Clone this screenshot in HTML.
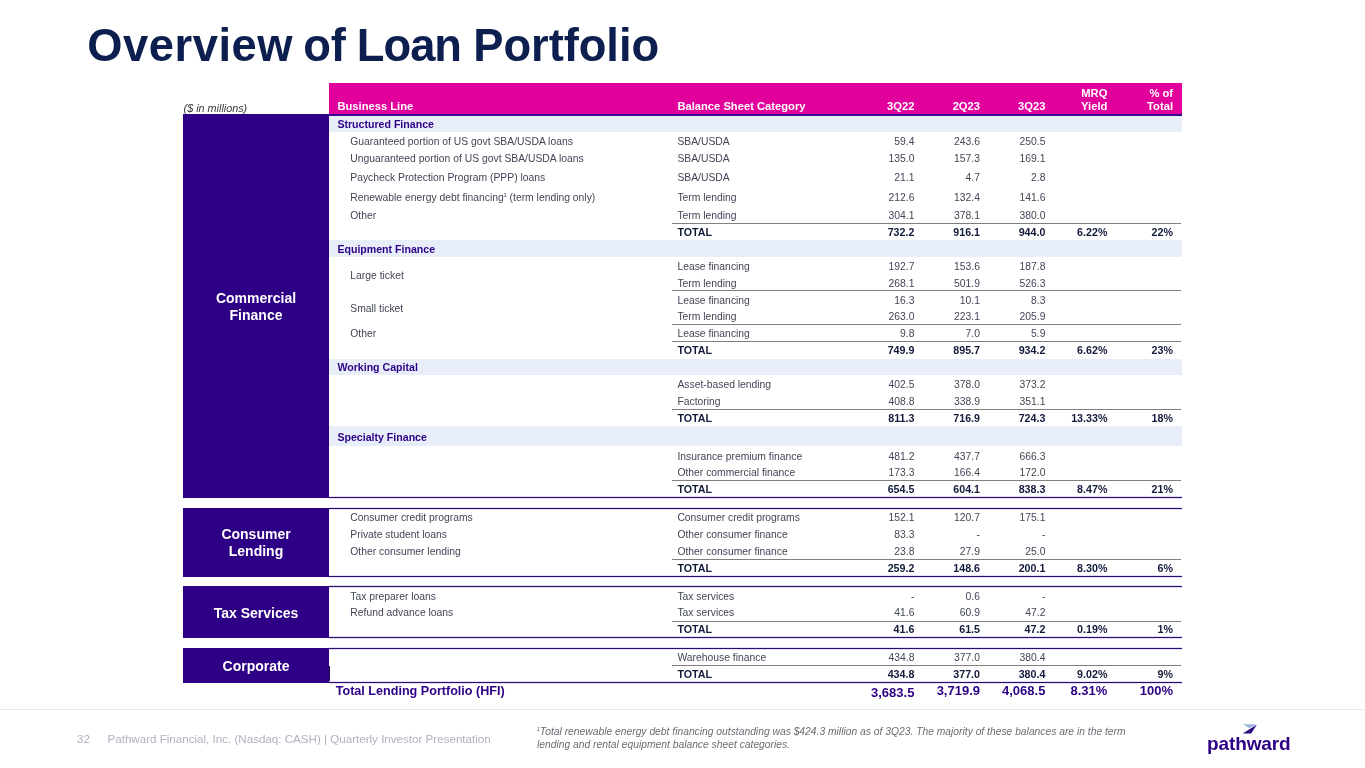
<!DOCTYPE html>
<html><head><meta charset="utf-8"><title>Overview of Loan Portfolio</title>
<style>
html,body{margin:0;padding:0;background:#fff;}
body{width:1365px;height:768px;position:relative;overflow:hidden;font-family:"Liberation Sans",Arial,sans-serif;}
.r{position:absolute;}
.t{position:absolute;white-space:nowrap;}
#w{position:absolute;left:0;top:0;width:1365px;height:768px;will-change:transform;}
sup{font-size:0.55em;vertical-align:0;position:relative;top:-0.68em;line-height:0;margin-left:-0.3px;}
</style></head><body><div id="w">
<div class="r" style="left:329px;top:83px;width:852.5px;height:31px;background:#e2009c;"></div>
<div class="r" style="left:329px;top:114px;width:852.5px;height:2px;background:#380c90;"></div>
<div class="r" style="left:183px;top:114px;width:146px;height:384px;background:#2e0085;"></div>
<div class="r" style="left:183px;top:508px;width:146px;height:69px;background:#2e0085;"></div>
<div class="r" style="left:183px;top:586px;width:146px;height:52px;background:#2e0085;"></div>
<div class="r" style="left:183px;top:648px;width:146px;height:35px;background:#2e0085;"></div>
<div class="r" style="left:329px;top:666px;width:1px;height:17px;background:#1c0a48;"></div>
<div class="r" style="left:329px;top:116px;width:852.5px;height:16px;background:#e7eefa;"></div>
<div class="r" style="left:329px;top:240px;width:852.5px;height:17px;background:#e7eefa;"></div>
<div class="r" style="left:329px;top:359px;width:852.5px;height:16px;background:#e7eefa;"></div>
<div class="r" style="left:329px;top:426px;width:852.5px;height:20px;background:#e7eefa;"></div>
<div class="r" style="left:672.2px;top:223px;width:509.29999999999995px;height:1.1px;background:#808080;"></div>
<div class="r" style="left:672.2px;top:290px;width:509.29999999999995px;height:1.1px;background:#808080;"></div>
<div class="r" style="left:672.2px;top:324px;width:509.29999999999995px;height:1.1px;background:#808080;"></div>
<div class="r" style="left:672.2px;top:340.5px;width:509.29999999999995px;height:1.1px;background:#808080;"></div>
<div class="r" style="left:672.2px;top:408.5px;width:509.29999999999995px;height:1.1px;background:#808080;"></div>
<div class="r" style="left:672.2px;top:480px;width:509.29999999999995px;height:1.1px;background:#808080;"></div>
<div class="r" style="left:672.2px;top:559px;width:509.29999999999995px;height:1.1px;background:#808080;"></div>
<div class="r" style="left:672.2px;top:620.5px;width:509.29999999999995px;height:1.1px;background:#808080;"></div>
<div class="r" style="left:672.2px;top:665px;width:509.29999999999995px;height:1.1px;background:#808080;"></div>
<div class="r" style="left:329px;top:497px;width:852.5px;height:1px;background:#2a0c6c;box-shadow:0 -1px 0 #e4ddf5,0 1px 0 #e4ddf5;"></div>
<div class="r" style="left:329px;top:508px;width:852.5px;height:1px;background:#2a0c6c;box-shadow:0 -1px 0 #e4ddf5,0 1px 0 #e4ddf5;"></div>
<div class="r" style="left:329px;top:576px;width:852.5px;height:1px;background:#2a0c6c;box-shadow:0 -1px 0 #e4ddf5,0 1px 0 #e4ddf5;"></div>
<div class="r" style="left:329px;top:586px;width:852.5px;height:1px;background:#2a0c6c;box-shadow:0 -1px 0 #e4ddf5,0 1px 0 #e4ddf5;"></div>
<div class="r" style="left:329px;top:637px;width:852.5px;height:1px;background:#2a0c6c;box-shadow:0 -1px 0 #e4ddf5,0 1px 0 #e4ddf5;"></div>
<div class="r" style="left:329px;top:648px;width:852.5px;height:1px;background:#2a0c6c;box-shadow:0 -1px 0 #e4ddf5,0 1px 0 #e4ddf5;"></div>
<div class="r" style="left:329px;top:682px;width:852.5px;height:1px;background:#2a0c6c;box-shadow:0 -1px 0 #e4ddf5,0 1px 0 #e4ddf5;"></div>
<div class="r" style="left:0px;top:709px;width:1365px;height:1px;background:#e8e8ec;"></div>
<div class="t" style="left:87.3px;top:18.7px;font-size:45.3px;line-height:54px;font-weight:700;color:#0c1f4f;letter-spacing:0.55px;">Overview</div>
<div class="t" style="left:303.2px;top:18.7px;font-size:45.3px;line-height:54px;font-weight:700;color:#0c1f4f;letter-spacing:-0.1px;">of</div>
<div class="t" style="left:356.8px;top:18.7px;font-size:45.3px;line-height:54px;font-weight:700;color:#0c1f4f;letter-spacing:-1.0px;">Loan</div>
<div class="t" style="left:473.3px;top:18.7px;font-size:45.3px;line-height:54px;font-weight:700;color:#0c1f4f;letter-spacing:-0.05px;">Portfolio</div>
<div class="t" style="top:101.98px;font-size:10.8px;line-height:12.96px;color:#3a3a3a;font-style:italic;left:183.6px;">($ in millions)</div>
<div class="t" style="top:100.20px;font-size:11.2px;line-height:13.44px;color:#fff;font-weight:700;left:337.4px;">Business Line</div>
<div class="t" style="top:100.20px;font-size:11.2px;line-height:13.44px;color:#fff;font-weight:700;left:677.4px;">Balance Sheet Category</div>
<div class="t" style="top:100.20px;font-size:11.2px;line-height:13.44px;color:#fff;font-weight:700;right:450.60px;text-align:right;">3Q22</div>
<div class="t" style="top:100.20px;font-size:11.2px;line-height:13.44px;color:#fff;font-weight:700;right:385.00px;text-align:right;">2Q23</div>
<div class="t" style="top:100.20px;font-size:11.2px;line-height:13.44px;color:#fff;font-weight:700;right:319.60px;text-align:right;">3Q23</div>
<div class="t" style="top:86.90px;font-size:11.2px;line-height:13.44px;color:#fff;font-weight:700;right:257.60px;text-align:right;">MRQ</div>
<div class="t" style="top:100.20px;font-size:11.2px;line-height:13.44px;color:#fff;font-weight:700;right:257.60px;text-align:right;">Yield</div>
<div class="t" style="top:86.90px;font-size:11.2px;line-height:13.44px;color:#fff;font-weight:700;right:192.00px;text-align:right;">% of</div>
<div class="t" style="top:100.20px;font-size:11.2px;line-height:13.44px;color:#fff;font-weight:700;right:192.00px;text-align:right;">Total</div>
<div class="t" style="top:117.87px;font-size:10.6px;line-height:12.72px;color:#2e0085;font-weight:700;left:337.4px;">Structured Finance</div>
<div class="t" style="top:136.30px;font-size:10.35px;line-height:12.42px;color:#424656;left:350.3px;">Guaranteed portion of US govt SBA/USDA loans</div>
<div class="t" style="top:136.30px;font-size:10.35px;line-height:12.42px;color:#424656;left:677.4px;">SBA/USDA</div>
<div class="t" style="top:136.30px;font-size:10.35px;line-height:12.42px;color:#424656;right:450.60px;text-align:right;">59.4</div>
<div class="t" style="top:136.30px;font-size:10.35px;line-height:12.42px;color:#424656;right:385.00px;text-align:right;">243.6</div>
<div class="t" style="top:136.30px;font-size:10.35px;line-height:12.42px;color:#424656;right:319.60px;text-align:right;">250.5</div>
<div class="t" style="top:153.00px;font-size:10.35px;line-height:12.42px;color:#424656;left:350.3px;">Unguaranteed portion of US govt SBA/USDA loans</div>
<div class="t" style="top:153.00px;font-size:10.35px;line-height:12.42px;color:#424656;left:677.4px;">SBA/USDA</div>
<div class="t" style="top:153.00px;font-size:10.35px;line-height:12.42px;color:#424656;right:450.60px;text-align:right;">135.0</div>
<div class="t" style="top:153.00px;font-size:10.35px;line-height:12.42px;color:#424656;right:385.00px;text-align:right;">157.3</div>
<div class="t" style="top:153.00px;font-size:10.35px;line-height:12.42px;color:#424656;right:319.60px;text-align:right;">169.1</div>
<div class="t" style="top:171.90px;font-size:10.35px;line-height:12.42px;color:#424656;left:350.3px;">Paycheck Protection Program (PPP) loans</div>
<div class="t" style="top:171.90px;font-size:10.35px;line-height:12.42px;color:#424656;left:677.4px;">SBA/USDA</div>
<div class="t" style="top:171.90px;font-size:10.35px;line-height:12.42px;color:#424656;right:450.60px;text-align:right;">21.1</div>
<div class="t" style="top:171.90px;font-size:10.35px;line-height:12.42px;color:#424656;right:385.00px;text-align:right;">4.7</div>
<div class="t" style="top:171.90px;font-size:10.35px;line-height:12.42px;color:#424656;right:319.60px;text-align:right;">2.8</div>
<div class="t" style="top:191.70px;font-size:10.35px;line-height:12.42px;color:#424656;left:350.3px;">Renewable energy debt financing<sup>1</sup> (term lending only)</div>
<div class="t" style="top:191.70px;font-size:10.35px;line-height:12.42px;color:#424656;left:677.4px;">Term lending</div>
<div class="t" style="top:191.70px;font-size:10.35px;line-height:12.42px;color:#424656;right:450.60px;text-align:right;">212.6</div>
<div class="t" style="top:191.70px;font-size:10.35px;line-height:12.42px;color:#424656;right:385.00px;text-align:right;">132.4</div>
<div class="t" style="top:191.70px;font-size:10.35px;line-height:12.42px;color:#424656;right:319.60px;text-align:right;">141.6</div>
<div class="t" style="top:210.20px;font-size:10.35px;line-height:12.42px;color:#424656;left:350.3px;">Other</div>
<div class="t" style="top:210.20px;font-size:10.35px;line-height:12.42px;color:#424656;left:677.4px;">Term lending</div>
<div class="t" style="top:210.20px;font-size:10.35px;line-height:12.42px;color:#424656;right:450.60px;text-align:right;">304.1</div>
<div class="t" style="top:210.20px;font-size:10.35px;line-height:12.42px;color:#424656;right:385.00px;text-align:right;">378.1</div>
<div class="t" style="top:210.20px;font-size:10.35px;line-height:12.42px;color:#424656;right:319.60px;text-align:right;">380.0</div>
<div class="t" style="top:225.77px;font-size:10.7px;line-height:12.84px;color:#131b3b;font-weight:700;left:677.4px;">TOTAL</div>
<div class="t" style="top:225.77px;font-size:10.7px;line-height:12.84px;color:#131b3b;font-weight:700;right:450.60px;text-align:right;">732.2</div>
<div class="t" style="top:225.77px;font-size:10.7px;line-height:12.84px;color:#131b3b;font-weight:700;right:385.00px;text-align:right;">916.1</div>
<div class="t" style="top:225.77px;font-size:10.7px;line-height:12.84px;color:#131b3b;font-weight:700;right:319.60px;text-align:right;">944.0</div>
<div class="t" style="top:225.77px;font-size:10.7px;line-height:12.84px;color:#131b3b;font-weight:700;right:257.60px;text-align:right;">6.22%</div>
<div class="t" style="top:225.77px;font-size:10.7px;line-height:12.84px;color:#131b3b;font-weight:700;right:192.00px;text-align:right;">22%</div>
<div class="t" style="top:243.37px;font-size:10.6px;line-height:12.72px;color:#2e0085;font-weight:700;left:337.4px;">Equipment Finance</div>
<div class="t" style="top:269.70px;font-size:10.35px;line-height:12.42px;color:#424656;left:350.3px;">Large ticket</div>
<div class="t" style="top:261.20px;font-size:10.35px;line-height:12.42px;color:#424656;left:677.4px;">Lease financing</div>
<div class="t" style="top:261.20px;font-size:10.35px;line-height:12.42px;color:#424656;right:450.60px;text-align:right;">192.7</div>
<div class="t" style="top:261.20px;font-size:10.35px;line-height:12.42px;color:#424656;right:385.00px;text-align:right;">153.6</div>
<div class="t" style="top:261.20px;font-size:10.35px;line-height:12.42px;color:#424656;right:319.60px;text-align:right;">187.8</div>
<div class="t" style="top:277.80px;font-size:10.35px;line-height:12.42px;color:#424656;left:677.4px;">Term lending</div>
<div class="t" style="top:277.80px;font-size:10.35px;line-height:12.42px;color:#424656;right:450.60px;text-align:right;">268.1</div>
<div class="t" style="top:277.80px;font-size:10.35px;line-height:12.42px;color:#424656;right:385.00px;text-align:right;">501.9</div>
<div class="t" style="top:277.80px;font-size:10.35px;line-height:12.42px;color:#424656;right:319.60px;text-align:right;">526.3</div>
<div class="t" style="top:303.00px;font-size:10.35px;line-height:12.42px;color:#424656;left:350.3px;">Small ticket</div>
<div class="t" style="top:294.70px;font-size:10.35px;line-height:12.42px;color:#424656;left:677.4px;">Lease financing</div>
<div class="t" style="top:294.70px;font-size:10.35px;line-height:12.42px;color:#424656;right:450.60px;text-align:right;">16.3</div>
<div class="t" style="top:294.70px;font-size:10.35px;line-height:12.42px;color:#424656;right:385.00px;text-align:right;">10.1</div>
<div class="t" style="top:294.70px;font-size:10.35px;line-height:12.42px;color:#424656;right:319.60px;text-align:right;">8.3</div>
<div class="t" style="top:311.20px;font-size:10.35px;line-height:12.42px;color:#424656;left:677.4px;">Term lending</div>
<div class="t" style="top:311.20px;font-size:10.35px;line-height:12.42px;color:#424656;right:450.60px;text-align:right;">263.0</div>
<div class="t" style="top:311.20px;font-size:10.35px;line-height:12.42px;color:#424656;right:385.00px;text-align:right;">223.1</div>
<div class="t" style="top:311.20px;font-size:10.35px;line-height:12.42px;color:#424656;right:319.60px;text-align:right;">205.9</div>
<div class="t" style="top:328.40px;font-size:10.35px;line-height:12.42px;color:#424656;left:350.3px;">Other</div>
<div class="t" style="top:328.40px;font-size:10.35px;line-height:12.42px;color:#424656;left:677.4px;">Lease financing</div>
<div class="t" style="top:328.40px;font-size:10.35px;line-height:12.42px;color:#424656;right:450.60px;text-align:right;">9.8</div>
<div class="t" style="top:328.40px;font-size:10.35px;line-height:12.42px;color:#424656;right:385.00px;text-align:right;">7.0</div>
<div class="t" style="top:328.40px;font-size:10.35px;line-height:12.42px;color:#424656;right:319.60px;text-align:right;">5.9</div>
<div class="t" style="top:344.37px;font-size:10.7px;line-height:12.84px;color:#131b3b;font-weight:700;left:677.4px;">TOTAL</div>
<div class="t" style="top:344.37px;font-size:10.7px;line-height:12.84px;color:#131b3b;font-weight:700;right:450.60px;text-align:right;">749.9</div>
<div class="t" style="top:344.37px;font-size:10.7px;line-height:12.84px;color:#131b3b;font-weight:700;right:385.00px;text-align:right;">895.7</div>
<div class="t" style="top:344.37px;font-size:10.7px;line-height:12.84px;color:#131b3b;font-weight:700;right:319.60px;text-align:right;">934.2</div>
<div class="t" style="top:344.37px;font-size:10.7px;line-height:12.84px;color:#131b3b;font-weight:700;right:257.60px;text-align:right;">6.62%</div>
<div class="t" style="top:344.37px;font-size:10.7px;line-height:12.84px;color:#131b3b;font-weight:700;right:192.00px;text-align:right;">23%</div>
<div class="t" style="top:361.37px;font-size:10.6px;line-height:12.72px;color:#2e0085;font-weight:700;left:337.4px;">Working Capital</div>
<div class="t" style="top:379.20px;font-size:10.35px;line-height:12.42px;color:#424656;left:677.4px;">Asset-based lending</div>
<div class="t" style="top:379.20px;font-size:10.35px;line-height:12.42px;color:#424656;right:450.60px;text-align:right;">402.5</div>
<div class="t" style="top:379.20px;font-size:10.35px;line-height:12.42px;color:#424656;right:385.00px;text-align:right;">378.0</div>
<div class="t" style="top:379.20px;font-size:10.35px;line-height:12.42px;color:#424656;right:319.60px;text-align:right;">373.2</div>
<div class="t" style="top:396.00px;font-size:10.35px;line-height:12.42px;color:#424656;left:677.4px;">Factoring</div>
<div class="t" style="top:396.00px;font-size:10.35px;line-height:12.42px;color:#424656;right:450.60px;text-align:right;">408.8</div>
<div class="t" style="top:396.00px;font-size:10.35px;line-height:12.42px;color:#424656;right:385.00px;text-align:right;">338.9</div>
<div class="t" style="top:396.00px;font-size:10.35px;line-height:12.42px;color:#424656;right:319.60px;text-align:right;">351.1</div>
<div class="t" style="top:411.67px;font-size:10.7px;line-height:12.84px;color:#131b3b;font-weight:700;left:677.4px;">TOTAL</div>
<div class="t" style="top:411.67px;font-size:10.7px;line-height:12.84px;color:#131b3b;font-weight:700;right:450.60px;text-align:right;">811.3</div>
<div class="t" style="top:411.67px;font-size:10.7px;line-height:12.84px;color:#131b3b;font-weight:700;right:385.00px;text-align:right;">716.9</div>
<div class="t" style="top:411.67px;font-size:10.7px;line-height:12.84px;color:#131b3b;font-weight:700;right:319.60px;text-align:right;">724.3</div>
<div class="t" style="top:411.67px;font-size:10.7px;line-height:12.84px;color:#131b3b;font-weight:700;right:257.60px;text-align:right;">13.33%</div>
<div class="t" style="top:411.67px;font-size:10.7px;line-height:12.84px;color:#131b3b;font-weight:700;right:192.00px;text-align:right;">18%</div>
<div class="t" style="top:430.67px;font-size:10.6px;line-height:12.72px;color:#2e0085;font-weight:700;left:337.4px;">Specialty Finance</div>
<div class="t" style="top:450.50px;font-size:10.35px;line-height:12.42px;color:#424656;left:677.4px;">Insurance premium finance</div>
<div class="t" style="top:450.50px;font-size:10.35px;line-height:12.42px;color:#424656;right:450.60px;text-align:right;">481.2</div>
<div class="t" style="top:450.50px;font-size:10.35px;line-height:12.42px;color:#424656;right:385.00px;text-align:right;">437.7</div>
<div class="t" style="top:450.50px;font-size:10.35px;line-height:12.42px;color:#424656;right:319.60px;text-align:right;">666.3</div>
<div class="t" style="top:467.00px;font-size:10.35px;line-height:12.42px;color:#424656;left:677.4px;">Other commercial finance</div>
<div class="t" style="top:467.00px;font-size:10.35px;line-height:12.42px;color:#424656;right:450.60px;text-align:right;">173.3</div>
<div class="t" style="top:467.00px;font-size:10.35px;line-height:12.42px;color:#424656;right:385.00px;text-align:right;">166.4</div>
<div class="t" style="top:467.00px;font-size:10.35px;line-height:12.42px;color:#424656;right:319.60px;text-align:right;">172.0</div>
<div class="t" style="top:483.27px;font-size:10.7px;line-height:12.84px;color:#131b3b;font-weight:700;left:677.4px;">TOTAL</div>
<div class="t" style="top:483.27px;font-size:10.7px;line-height:12.84px;color:#131b3b;font-weight:700;right:450.60px;text-align:right;">654.5</div>
<div class="t" style="top:483.27px;font-size:10.7px;line-height:12.84px;color:#131b3b;font-weight:700;right:385.00px;text-align:right;">604.1</div>
<div class="t" style="top:483.27px;font-size:10.7px;line-height:12.84px;color:#131b3b;font-weight:700;right:319.60px;text-align:right;">838.3</div>
<div class="t" style="top:483.27px;font-size:10.7px;line-height:12.84px;color:#131b3b;font-weight:700;right:257.60px;text-align:right;">8.47%</div>
<div class="t" style="top:483.27px;font-size:10.7px;line-height:12.84px;color:#131b3b;font-weight:700;right:192.00px;text-align:right;">21%</div>
<div class="t" style="top:512.20px;font-size:10.35px;line-height:12.42px;color:#424656;left:350.3px;">Consumer credit programs</div>
<div class="t" style="top:512.20px;font-size:10.35px;line-height:12.42px;color:#424656;left:677.4px;">Consumer credit programs</div>
<div class="t" style="top:512.20px;font-size:10.35px;line-height:12.42px;color:#424656;right:450.60px;text-align:right;">152.1</div>
<div class="t" style="top:512.20px;font-size:10.35px;line-height:12.42px;color:#424656;right:385.00px;text-align:right;">120.7</div>
<div class="t" style="top:512.20px;font-size:10.35px;line-height:12.42px;color:#424656;right:319.60px;text-align:right;">175.1</div>
<div class="t" style="top:528.90px;font-size:10.35px;line-height:12.42px;color:#424656;left:350.3px;">Private student loans</div>
<div class="t" style="top:528.90px;font-size:10.35px;line-height:12.42px;color:#424656;left:677.4px;">Other consumer finance</div>
<div class="t" style="top:528.90px;font-size:10.35px;line-height:12.42px;color:#424656;right:450.60px;text-align:right;">83.3</div>
<div class="t" style="top:528.90px;font-size:10.35px;line-height:12.42px;color:#424656;right:385.00px;text-align:right;">-</div>
<div class="t" style="top:528.90px;font-size:10.35px;line-height:12.42px;color:#424656;right:319.60px;text-align:right;">-</div>
<div class="t" style="top:545.60px;font-size:10.35px;line-height:12.42px;color:#424656;left:350.3px;">Other consumer lending</div>
<div class="t" style="top:545.60px;font-size:10.35px;line-height:12.42px;color:#424656;left:677.4px;">Other consumer finance</div>
<div class="t" style="top:545.60px;font-size:10.35px;line-height:12.42px;color:#424656;right:450.60px;text-align:right;">23.8</div>
<div class="t" style="top:545.60px;font-size:10.35px;line-height:12.42px;color:#424656;right:385.00px;text-align:right;">27.9</div>
<div class="t" style="top:545.60px;font-size:10.35px;line-height:12.42px;color:#424656;right:319.60px;text-align:right;">25.0</div>
<div class="t" style="top:562.07px;font-size:10.7px;line-height:12.84px;color:#131b3b;font-weight:700;left:677.4px;">TOTAL</div>
<div class="t" style="top:562.07px;font-size:10.7px;line-height:12.84px;color:#131b3b;font-weight:700;right:450.60px;text-align:right;">259.2</div>
<div class="t" style="top:562.07px;font-size:10.7px;line-height:12.84px;color:#131b3b;font-weight:700;right:385.00px;text-align:right;">148.6</div>
<div class="t" style="top:562.07px;font-size:10.7px;line-height:12.84px;color:#131b3b;font-weight:700;right:319.60px;text-align:right;">200.1</div>
<div class="t" style="top:562.07px;font-size:10.7px;line-height:12.84px;color:#131b3b;font-weight:700;right:257.60px;text-align:right;">8.30%</div>
<div class="t" style="top:562.07px;font-size:10.7px;line-height:12.84px;color:#131b3b;font-weight:700;right:192.00px;text-align:right;">6%</div>
<div class="t" style="top:590.50px;font-size:10.35px;line-height:12.42px;color:#424656;left:350.3px;">Tax preparer loans</div>
<div class="t" style="top:590.50px;font-size:10.35px;line-height:12.42px;color:#424656;left:677.4px;">Tax services</div>
<div class="t" style="top:590.50px;font-size:10.35px;line-height:12.42px;color:#424656;right:450.60px;text-align:right;">-</div>
<div class="t" style="top:590.50px;font-size:10.35px;line-height:12.42px;color:#424656;right:385.00px;text-align:right;">0.6</div>
<div class="t" style="top:590.50px;font-size:10.35px;line-height:12.42px;color:#424656;right:319.60px;text-align:right;">-</div>
<div class="t" style="top:607.20px;font-size:10.35px;line-height:12.42px;color:#424656;left:350.3px;">Refund advance loans</div>
<div class="t" style="top:607.20px;font-size:10.35px;line-height:12.42px;color:#424656;left:677.4px;">Tax services</div>
<div class="t" style="top:607.20px;font-size:10.35px;line-height:12.42px;color:#424656;right:450.60px;text-align:right;">41.6</div>
<div class="t" style="top:607.20px;font-size:10.35px;line-height:12.42px;color:#424656;right:385.00px;text-align:right;">60.9</div>
<div class="t" style="top:607.20px;font-size:10.35px;line-height:12.42px;color:#424656;right:319.60px;text-align:right;">47.2</div>
<div class="t" style="top:623.47px;font-size:10.7px;line-height:12.84px;color:#131b3b;font-weight:700;left:677.4px;">TOTAL</div>
<div class="t" style="top:623.47px;font-size:10.7px;line-height:12.84px;color:#131b3b;font-weight:700;right:450.60px;text-align:right;">41.6</div>
<div class="t" style="top:623.47px;font-size:10.7px;line-height:12.84px;color:#131b3b;font-weight:700;right:385.00px;text-align:right;">61.5</div>
<div class="t" style="top:623.47px;font-size:10.7px;line-height:12.84px;color:#131b3b;font-weight:700;right:319.60px;text-align:right;">47.2</div>
<div class="t" style="top:623.47px;font-size:10.7px;line-height:12.84px;color:#131b3b;font-weight:700;right:257.60px;text-align:right;">0.19%</div>
<div class="t" style="top:623.47px;font-size:10.7px;line-height:12.84px;color:#131b3b;font-weight:700;right:192.00px;text-align:right;">1%</div>
<div class="t" style="top:652.00px;font-size:10.35px;line-height:12.42px;color:#424656;left:677.4px;">Warehouse finance</div>
<div class="t" style="top:652.00px;font-size:10.35px;line-height:12.42px;color:#424656;right:450.60px;text-align:right;">434.8</div>
<div class="t" style="top:652.00px;font-size:10.35px;line-height:12.42px;color:#424656;right:385.00px;text-align:right;">377.0</div>
<div class="t" style="top:652.00px;font-size:10.35px;line-height:12.42px;color:#424656;right:319.60px;text-align:right;">380.4</div>
<div class="t" style="top:667.97px;font-size:10.7px;line-height:12.84px;color:#131b3b;font-weight:700;left:677.4px;">TOTAL</div>
<div class="t" style="top:667.97px;font-size:10.7px;line-height:12.84px;color:#131b3b;font-weight:700;right:450.60px;text-align:right;">434.8</div>
<div class="t" style="top:667.97px;font-size:10.7px;line-height:12.84px;color:#131b3b;font-weight:700;right:385.00px;text-align:right;">377.0</div>
<div class="t" style="top:667.97px;font-size:10.7px;line-height:12.84px;color:#131b3b;font-weight:700;right:319.60px;text-align:right;">380.4</div>
<div class="t" style="top:667.97px;font-size:10.7px;line-height:12.84px;color:#131b3b;font-weight:700;right:257.60px;text-align:right;">9.02%</div>
<div class="t" style="top:667.97px;font-size:10.7px;line-height:12.84px;color:#131b3b;font-weight:700;right:192.00px;text-align:right;">9%</div>
<div class="t" style="top:683.67px;font-size:12.6px;line-height:15.12px;color:#2e0085;font-weight:700;left:335.7px;">Total Lending Portfolio (HFI)</div>
<div class="t" style="top:684.80px;font-size:13px;line-height:15.6px;color:#2e0085;font-weight:700;right:450.60px;text-align:right;">3,683.5</div>
<div class="t" style="top:683.30px;font-size:13px;line-height:15.6px;color:#2e0085;font-weight:700;right:385.00px;text-align:right;">3,719.9</div>
<div class="t" style="top:683.30px;font-size:13px;line-height:15.6px;color:#2e0085;font-weight:700;right:319.60px;text-align:right;">4,068.5</div>
<div class="t" style="top:683.30px;font-size:13px;line-height:15.6px;color:#2e0085;font-weight:700;right:257.60px;text-align:right;">8.31%</div>
<div class="t" style="top:683.30px;font-size:13px;line-height:15.6px;color:#2e0085;font-weight:700;right:192.00px;text-align:right;">100%</div>
<div class="t" style="left:183px;width:146px;text-align:center;top:289.75px;font-size:14px;line-height:16.8px;font-weight:700;color:#fff;">Commercial</div>
<div class="t" style="left:183px;width:146px;text-align:center;top:306.55px;font-size:14px;line-height:16.8px;font-weight:700;color:#fff;">Finance</div>
<div class="t" style="left:183px;width:146px;text-align:center;top:525.75px;font-size:14px;line-height:16.8px;font-weight:700;color:#fff;">Consumer</div>
<div class="t" style="left:183px;width:146px;text-align:center;top:542.95px;font-size:14px;line-height:16.8px;font-weight:700;color:#fff;">Lending</div>
<div class="t" style="left:183px;width:146px;text-align:center;top:604.75px;font-size:14px;line-height:16.8px;font-weight:700;color:#fff;">Tax Services</div>
<div class="t" style="left:183px;width:146px;text-align:center;top:657.65px;font-size:14px;line-height:16.8px;font-weight:700;color:#fff;">Corporate</div>
<div class="t" style="top:731.53px;font-size:11.7px;line-height:14.04px;color:#aeb1c0;left:77px;">32</div>
<div class="t" style="top:731.62px;font-size:11.6px;line-height:13.92px;color:#aeb1c0;left:107.5px;">Pathward Financial, Inc. (Nasdaq: CASH) | Quarterly Investor Presentation</div>
<div class="t" style="top:725.95px;font-size:10.3px;line-height:12.36px;color:#6c6c74;font-style:italic;left:537px;"><sup>1</sup>Total renewable energy debt financing outstanding was $424.3 million as of 3Q23. The majority of these balances are in the term</div>
<div class="t" style="top:738.75px;font-size:10.3px;line-height:12.36px;color:#6c6c74;font-style:italic;left:537px;">lending and rental equipment balance sheet categories.</div>
<svg class="r" style="left:1240px;top:722px;width:20px;height:14px" width="20" height="14" viewBox="1240 722 20 14">
<defs><linearGradient id="lg" x1="0" x2="1" y1="0" y2="0"><stop offset="0" stop-color="#8fc9cc"/><stop offset="1" stop-color="#a6a6f4"/></linearGradient></defs>
<polygon points="1242.7,724.1 1256.6,724.5 1249.4,728.2" fill="url(#lg)"/>
<polygon points="1256.8,724.8 1242.6,733.5 1251.2,733.6" fill="#2e0a80"/>
</svg>
<div class="t" style="left:1207px;top:732.2px;font-size:19px;line-height:24px;font-weight:700;color:#2e0085;letter-spacing:-0.12px;">pathward</div>
</div></body></html>
